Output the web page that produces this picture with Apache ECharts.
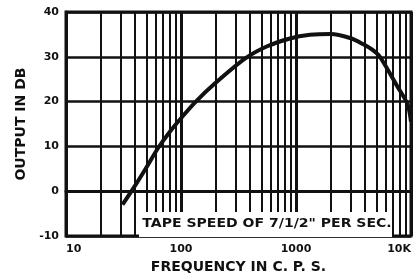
<!DOCTYPE html>
<html>
<head>
<meta charset="utf-8">
<script src="https://cdn.jsdelivr.net/npm/echarts@6/dist/echarts.min.js"></script>
<style>
  html, body { margin: 0; padding: 0; background: #fff; }
  #chart { width: 415px; height: 279px; }
</style>
</head>
<body>
<div id="chart"></div>
<script>
// response curve (c.p.s. vs dB)
const freqs = [31, 40, 50, 63, 80, 100, 132, 200, 360, 556, 887, 1324, 2000, 2950, 3850, 4600, 5370, 7520, 9300, 10000]
const outputDb = [-3, 1.3, 5.3, 9.6, 13.3, 16.3, 19.8, 24.2, 29.6, 32.3, 34.1, 34.9, 35.1, 34.2, 32.8, 31.6, 30, 23.6, 19.5, 15.5]

// the 2..9 lines inside each decade
const minorFreqs = [20, 30, 40, 50, 60, 70, 80, 90,
  200, 300, 400, 500, 600, 700, 800, 900,
  2000, 3000, 4000, 5000, 6000, 7000, 8000, 9000]

const xLabels = { 10: '10', 100: '100', 1000: '1000', 10000: '10K' }
const noteText = 'TAPE SPEED OF 7/1/2" PER SEC.'

const ink = '#111'
const font = 'DejaVu Sans'

const chart = echarts.init(document.getElementById('chart'))

chart.setOption({
  animation: false,
  backgroundColor: '#fff',
  grid: {
    left: 66, right: 4, top: 12, bottom: 35,
    show: true, borderColor: ink, borderWidth: 3,
  },
  xAxis: {
    type: 'log',
    logBase: 10,
    min: 10,
    max: 10000,
    splitNumber: 3,
    name: 'FREQUENCY IN C. P. S.',
    nameLocation: 'middle',
    nameGap: 23,
    nameTextStyle: { color: ink, fontFamily: font, fontWeight: 'bold', fontSize: 14 },
    axisLine: { lineStyle: { color: ink, width: 3 } },
    axisTick: { show: false },
    axisLabel: {
      color: ink, fontFamily: font, fontWeight: 'bold', fontSize: 11, margin: 8,
      alignMinLabel: 'left', alignMaxLabel: 'right',
      formatter: (v) => xLabels[Math.round(v)] || '',
    },
    splitLine: { show: true, lineStyle: { color: ink, width: 3 } },
  },
  yAxis: {
    type: 'value',
    min: -10,
    max: 40,
    interval: 10,
    name: 'OUTPUT IN DB',
    nameLocation: 'middle',
    nameGap: 34,
    nameTextStyle: { color: ink, fontFamily: font, fontWeight: 'bold', fontSize: 14 },
    axisLine: { show: true, lineStyle: { color: ink, width: 3 } },
    axisTick: { show: false },
    axisLabel: { color: ink, fontFamily: font, fontWeight: 'bold', fontSize: 11, margin: 7 },
    splitLine: { show: true, lineStyle: { color: ink, width: 2.5 } },
  },
  series: [
    {
      type: 'line',
      data: freqs.map((f, i) => [f, outputDb[i]]),
      smooth: 0.3,
      symbol: 'none',
      lineStyle: { color: ink, width: 4 },
      z: 5,
      markLine: {
        silent: true,
        symbol: 'none',
        animation: false,
        label: { show: false },
        lineStyle: { color: ink, width: 2, type: 'solid' },
        data: minorFreqs.map((f) => ({ xAxis: f })),
      },
    },
  ],
  graphic: [
    {
      type: 'rect',
      shape: { x: 139, y: 212, width: 253, height: 25 },
      style: { fill: '#fff' },
      z: 10,
    },
    {
      type: 'text',
      x: 267,
      y: 224,
      scaleX: 1.17,
      style: {
        text: noteText,
        fill: ink,
        font: 'bold 12px "DejaVu Sans"',
        align: 'center',
        verticalAlign: 'middle',
      },
      z: 11,
    },
  ],
})
</script>
</body>
</html>
